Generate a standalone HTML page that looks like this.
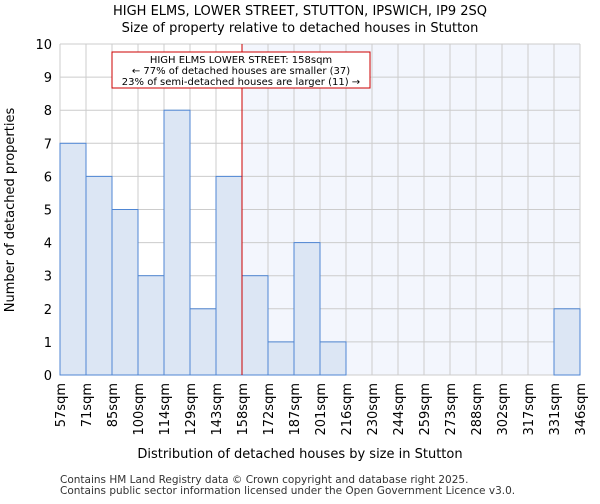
<!DOCTYPE html>
<html><head><meta charset="utf-8"><style>
body{margin:0;background:#fff;font-family:"DejaVu Sans","Liberation Sans",sans-serif;}
</style></head><body>
<svg width="600" height="500" xmlns="http://www.w3.org/2000/svg" font-family="DejaVu Sans, Liberation Sans, sans-serif">
<text x="300" y="15" text-anchor="middle" font-size="13">HIGH ELMS, LOWER STREET, STUTTON, IPSWICH, IP9 2SQ</text>
<text x="300" y="32" text-anchor="middle" font-size="13">Size of property relative to detached houses in Stutton</text>
<g id="plot"></g>
<text x="300" y="458" text-anchor="middle" font-size="13">Distribution of detached houses by size in Stutton</text>
<text x="14" y="210" text-anchor="middle" font-size="13" transform="rotate(-90 14 210)">Number of detached properties</text>
<text x="60" y="483" font-size="10.5" fill="#333">Contains HM Land Registry data © Crown copyright and database right 2025.</text>
<text x="60" y="494" font-size="10.5" fill="#333">Contains public sector information licensed under the Open Government Licence v3.0.</text>
</svg>
<script>
const categories=["57sqm","71sqm","85sqm","100sqm","114sqm","129sqm","143sqm","158sqm","172sqm","187sqm","201sqm","216sqm","230sqm","244sqm","259sqm","273sqm","288sqm","302sqm","317sqm","331sqm","346sqm"];
const counts=[7,6,5,3,8,2,6,3,1,4,1,0,0,0,0,0,0,0,0,2];
const yTicks=[0,1,2,3,4,5,6,7,8,9,10];
const markerBin=7;
const NS="http://www.w3.org/2000/svg";
const g=document.getElementById('plot');
const L=60,R=580,T=44,B=375,n=counts.length,bw=(R-L)/n;
const x=i=>L+i*bw, y=v=>B-(v/10)*(B-T);
function mk(t,a){const e=document.createElementNS(NS,t);for(const k in a)e.setAttribute(k,a[k]);g.appendChild(e);return e;}
let sh=mk('rect',{x:x(markerBin),y:T,width:R-x(markerBin),height:B-T,fill:'#f3f6fd'});


for(let i=0;i<=n;i++){let l=mk('line',{x1:x(i),x2:x(i),y1:T,y2:B,stroke:'#ccc','stroke-width':1});

}
yTicks.forEach(v=>{let l=mk('line',{x1:L,x2:R,y1:y(v),y2:y(v),stroke:'#ccc','stroke-width':1});


let t=mk('text',{x:L-8,y:y(v)+5,'text-anchor':'end','font-size':13});t.textContent=v;

});
counts.forEach((c,i)=>{if(c<=0)return;let r=mk('rect',{x:x(i),y:y(c),width:bw,height:B-y(c),fill:'#dce6f4',stroke:'#4f86d3','stroke-width':1});

});
categories.forEach((c,i)=>{let t=mk('text',{x:0,y:0,'text-anchor':'end','font-size':13,transform:`translate(${x(i)+5},${B+8}) rotate(-90)`});t.textContent=c;

});
let ml=mk('line',{x1:x(markerBin),x2:x(markerBin),y1:T,y2:B,stroke:'#cc0000','stroke-width':1});


let ab=mk('rect',{x:112,y:52,width:258,height:36,fill:'#fff',stroke:'#cc0000','stroke-width':1});


["HIGH ELMS LOWER STREET: 158sqm","← 77% of detached houses are smaller (37)","23% of semi-detached houses are larger (11) →"].forEach((s,k)=>{let t=mk('text',{x:241,y:63+k*11,'text-anchor':'middle','font-size':10});t.textContent=s;

});
</script>
</body></html>
